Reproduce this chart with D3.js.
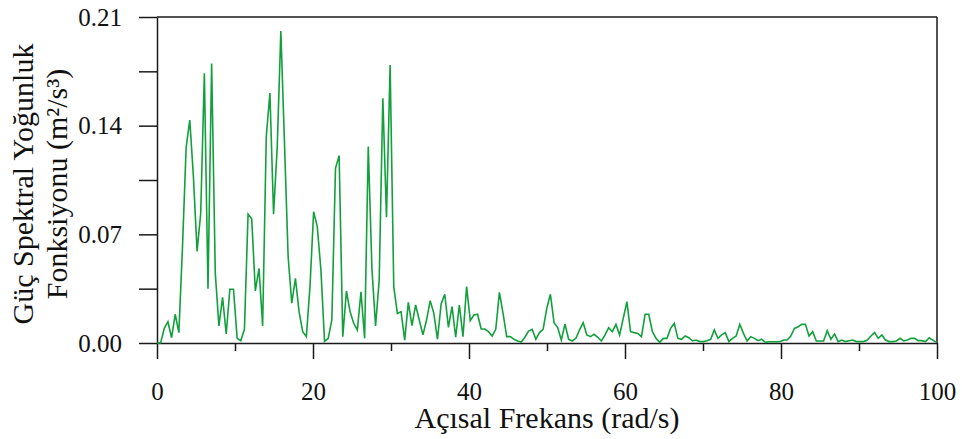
<!DOCTYPE html>
<html>
<head>
<meta charset="utf-8">
<script src="https://cdn.jsdelivr.net/npm/d3@7"></script>
<style>
  body { margin: 0; background: #fff; }
</style>
</head>
<body>
<div id="chart"></div>
<script>
/* CONSTANTS AND GLOBALS */
const width = 962,
      height = 439,
      margin = {top: 17, right: 25, bottom: 96, left: 157},
      innerWidth = width - margin.left - margin.right,
      innerHeight = height - margin.top - margin.bottom;

const fontFamily = "'Liberation Serif', 'Times New Roman', Times, 'DejaVu Serif', serif";

/* DATA */
// frequency grid step (rad/s), spectrum is sampled on a regular grid
const freqStep = 0.467;
const psdValues = [
  0, 0, 0.0095, 0.0137, 0.0034, 0.0185, 0.0067, 0.062, 0.126, 0.1436,
  0.107, 0.059, 0.0835, 0.1737, 0.035, 0.180, 0.045, 0.011, 0.0294, 0.0058,
  0.0346, 0.0346, 0.003, 0.0015, 0.0088, 0.083, 0.080, 0.0335, 0.048, 0.011,
  0.133, 0.161, 0.083, 0.126, 0.201, 0.1286, 0.0556, 0.0256, 0.0417, 0.0202,
  0.0073, 0.0041, 0.0363, 0.0846, 0.075, 0.047, 0.001, 0.003, 0.0148, 0.1125,
  0.1207, 0.004, 0.0335, 0.0202, 0.0127, 0.0084, 0.033, 0.003, 0.1265, 0.048,
  0.011, 0.0406, 0.1576, 0.081, 0.179, 0.036, 0.019, 0.0202, 0.0019, 0.0262,
  0.0112, 0.0245, 0.0148, 0.0052, 0.0148, 0.0273, 0.0191, 0.0024, 0.0251, 0.0314,
  0.0101, 0.0234, 0.0037, 0.0245, 0.0041, 0.0363, 0.0144, 0.018, 0.0185, 0.009,
  0.009, 0.0073, 0.0045, 0.0088, 0.0326, 0.0191, 0.0041, 0.0041, 0.0024, 0.0013,
  0.0006, 0.0037, 0.0077, 0.0088, 0.0024, 0.0067, 0.0088, 0.0223, 0.0314, 0.0131,
  0.0099, 0.0019, 0.0122, 0.0024, 0.0013, 0.003, 0.0084, 0.0131, 0.0052, 0.0041,
  0.0056, 0.0037, 0.0013, 0.0052, 0.0099, 0.0073, 0.012, 0.0052, 0.0159, 0.0266,
  0.0073, 0.0067, 0.0062, 0.0041, 0.0185, 0.0185, 0.0073, 0.003, 0.0004, 0.003,
  0.003, 0.0094, 0.0127, 0.003, 0.0024, 0.0045, 0.0034, 0.0013, 0.0019, 0.0009,
  0.0009, 0.0015, 0.0024, 0.0084, 0.003, 0.0052, 0.0067, 0.0009, 0.003, 0.0045,
  0.012, 0.0062, 0.0013, 0.0041, 0.003, 0.0015, 0.0024, 0.0004, 0.0008, 0.0008,
  0.0008, 0.0008, 0.0019, 0.0019, 0.0045, 0.0094, 0.0105, 0.012, 0.012, 0.0045,
  0.0073, 0.0013, 0.0013, 0.0013, 0.0079, 0.0024, 0.0058, 0.0009, 0.0019, 0.0009,
  0.0015, 0.0019, 0.0009, 0.0009, 0.0009, 0.0019, 0.0045, 0.0067, 0.003, 0.0052,
  0.0019, 0.0009, 0.0009, 0.0013, 0.003, 0.0013, 0.0019, 0.003, 0.003, 0.0015,
  0.0015, 0.0009, 0.0034, 0.0019, 0.0004
];
const xTicks = [0, 20, 40, 60, 80, 100];
const xMinorTicks = [10, 30, 50, 70, 90];
const yTicks = [0, 0.07, 0.14, 0.21];
const yMinorTicks = [0.035, 0.105, 0.175];
const xLabel = "Açısal Frekans (rad/s)";
const yLabelLines = ["Güç Spektral Yoğunluk", "Fonksiyonu (m²/s³)"];

const data = psdValues.map((v, i) => ({w: i * freqStep, v: v}));

/* APPEND SVG */
const svg = d3.select("#chart")
  .append("svg")
    .attr("width", width)
    .attr("height", height)
    .attr("font-family", fontFamily);

const g = svg.append("g")
    .attr("transform", `translate(${margin.left},${margin.top})`);

/* SCALES */
const xScale = d3.scaleLinear().domain([0, 100]).range([0, innerWidth]);
const yScale = d3.scaleLinear().domain([0, 0.21]).range([innerHeight, 0]);

/* AXES */
const axisColor = "#1a1a1a";

g.append("g")
    .attr("transform", `translate(0,${innerHeight})`)
    .call(d3.axisBottom(xScale).tickValues(xMinorTicks).tickSize(8).tickFormat(""))
    .call(a => a.select(".domain").remove());

g.append("g")
    .attr("transform", `translate(0,${innerHeight})`)
    .call(d3.axisBottom(xScale).tickValues(xTicks).tickSize(16).tickSizeOuter(0).tickPadding(23))
    .attr("font-family", fontFamily)
    .attr("font-size", 25);

g.append("g")
    .call(d3.axisLeft(yScale).tickValues(yMinorTicks).tickSize(18).tickFormat(""))
    .call(a => a.select(".domain").remove());

g.append("g")
    .call(d3.axisLeft(yScale).tickValues(yTicks).tickSize(18).tickSizeOuter(0)
      .tickPadding(17).tickFormat(d3.format(".2f")))
    .attr("font-family", fontFamily)
    .attr("font-size", 25);

g.selectAll(".tick line, .domain")
    .attr("stroke", axisColor)
    .attr("stroke-width", 1.5);
g.selectAll(".tick text")
    .attr("fill", "#111");

/* FRAME (top and right) */
g.append("line")
    .attr("x1", 0).attr("x2", innerWidth)
    .attr("y1", 0).attr("y2", 0)
    .attr("stroke", axisColor).attr("stroke-width", 1.5);
g.append("line")
    .attr("x1", innerWidth).attr("x2", innerWidth)
    .attr("y1", 0).attr("y2", innerHeight)
    .attr("stroke", axisColor).attr("stroke-width", 1.5);

/* LINE */
const line = d3.line()
    .x(d => xScale(d.w))
    .y(d => yScale(d.v));

g.append("path")
    .datum(data)
    .attr("fill", "none")
    .attr("stroke", "#12a03c")
    .attr("stroke-width", 1.6)
    .attr("d", line);

/* AXIS TITLES */
svg.append("text")
    .attr("x", margin.left + innerWidth / 2)
    .attr("y", 428)
    .attr("text-anchor", "middle")
    .attr("font-size", 30)
    .attr("fill", "#111")
    .text(xLabel);

const yTitle = svg.append("text")
    .attr("transform", "rotate(-90)")
    .attr("text-anchor", "middle")
    .attr("font-size", 30)
    .attr("fill", "#111");

yTitle.selectAll("tspan")
  .data(yLabelLines)
  .join("tspan")
    .attr("x", -184)
    .attr("y", (d, i) => 33 + i * 34)
    .text(d => d);
</script>
</body>
</html>
